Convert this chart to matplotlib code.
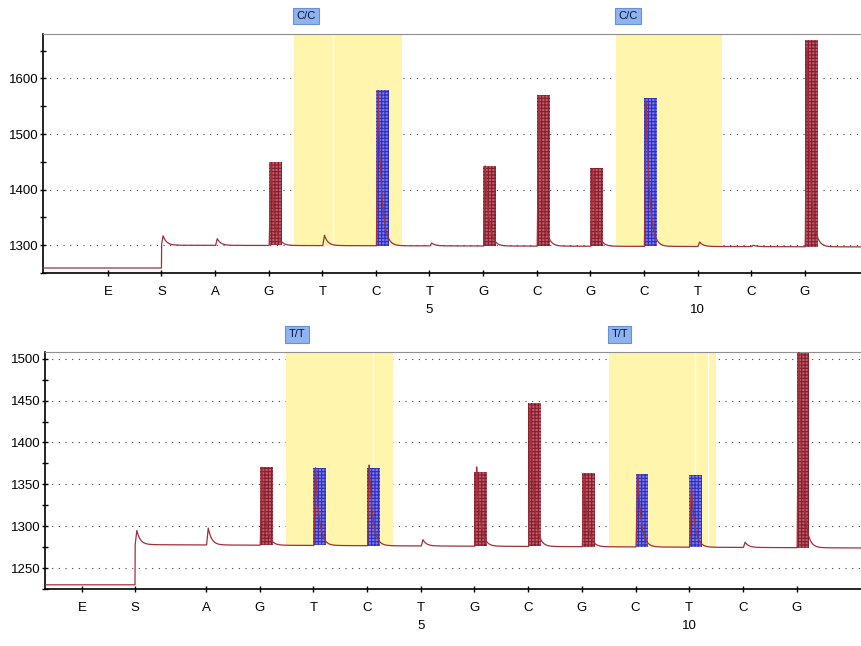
import numpy as np
import matplotlib.pyplot as plt
import matplotlib.transforms as mtransforms

plt.rcParams['font.family'] = ['Liberation Sans', 'DejaVu Sans']
plt.rcParams['hatch.linewidth'] = 0.8

# dispensation order (E = enzyme, S = substrate, then nucleotides 1..12)
disp_labels = ['E', 'S', 'A', 'G', 'T', 'C', 'T', 'G', 'C', 'G', 'C', 'T', 'C', 'G']
nuc_pos = np.arange(1, 13)

# top pyrogram (C/C genotype)
top_es_pos = [-1.0, 0.0]
top_pre = 1259
top_base = [1300, 1297]          # baseline at S and at the end
top_s_spike = 1317
top_peaks = [1312, 1450, 1318, 1580, 1304, 1443, 1570, 1439, 1565, 1306, 1300, 1670]
top_bars = [None, 1450, None, 1580, None, 1443, 1570, 1439, 1565, None, None, 1670]
top_blue = [4, 9]
top_regions = [(2.47, 4.48), (8.48, 10.46)]
top_region_lines = [3.20]
top_call = 'C/C'
top_ylim = (1256, 1680)
top_major = [1300, 1400, 1500, 1600]
top_minor = [1250, 1350, 1450, 1550, 1650]

# bottom pyrogram (T/T genotype)
bot_es_pos = [-1.31, -0.32]
bot_pre = 1230
bot_base = [1278, 1274]
bot_s_spike = 1295
bot_peaks = [1298, 1371, 1370, 1374, 1284, 1374, 1447, 1363, 1364, 1350, 1281, 1520]
bot_bars = [None, 1371, 1370, 1369, None, 1365, 1447, 1363, 1362, 1361, None, 1507]
bot_blue = [3, 4, 9, 10]
bot_regions = [(2.49, 4.48), (8.50, 10.50)]
bot_region_lines = [4.11, 10.11, 10.35]
bot_call = 'T/T'
bot_ylim = (1225, 1508)
bot_major = [1250, 1300, 1350, 1400, 1450, 1500]
bot_minor = [1225, 1275, 1325, 1375, 1425, 1475]

trace_col = '#a0303c'
red_face, red_hatch = '#b8606c', '#8b1a2a'
blue_face, blue_hatch = '#7c7ce8', '#2e2ec0'
yellow = '#fff5ac'


def peak_shape(x, x0):
    # fast rise, exponential decay
    d = x - x0
    y = np.zeros_like(x)
    rise = (d >= 0) & (d < 0.03)
    y[rise] = d[rise] / 0.03
    tail = d >= 0.03
    y[tail] = np.exp(-(d[tail] - 0.03) / 0.065)
    return y


def draw_panel(ax, xlim, es_pos, pre, base, s_spike, peaks, bars, blue,
               regions, region_lines, call, ylim, major, minor):
    x = np.linspace(xlim[0], xlim[1], 4000)
    s = es_pos[1]
    baseline = np.where(x < s, pre,
                        base[0] + (base[1] - base[0]) * (x - s) / (xlim[1] - s))
    trace = baseline + (s_spike - base[0]) * peak_shape(x, s)
    bl_at = lambda p: base[0] + (base[1] - base[0]) * (p - s) / (xlim[1] - s)
    for p, h in zip(nuc_pos, peaks):
        trace = trace + (h - bl_at(p)) * peak_shape(x, p + 0.01)

    # highlighted variable positions
    for x0, x1 in regions:
        ax.bar(x0, ylim[1] - bl_at(x0), bottom=bl_at(x0), width=x1 - x0,
               align='edge', color=yellow, linewidth=0, zorder=1)
    for xl in region_lines:
        ax.plot([xl, xl], [bl_at(xl), ylim[1]], color='white', lw=1, zorder=1.5)

    # peak bars
    for p, h in zip(nuc_pos, bars):
        if h is None:
            continue
        if p in blue:
            fc, hc = blue_face, blue_hatch
        else:
            fc, hc = red_face, red_hatch
        b = bl_at(p)
        ax.bar(p, h - b, bottom=b, width=0.24, align='edge', facecolor=fc,
               edgecolor=hc, hatch='+++++', linewidth=0, zorder=2)

    ax.plot(x, trace, color=trace_col, lw=0.9, zorder=3)

    ax.set_xlim(xlim)
    ax.set_ylim(ylim)
    ax.set_yticks(major)
    ax.set_yticks(minor, minor=True)
    ax.set_xticks(list(es_pos) + list(nuc_pos))
    ax.set_xticklabels(disp_labels)
    ax.tick_params(axis='both', which='both', direction='inout', length=5,
                   width=1, labelsize=9.5, colors='black')
    ax.tick_params(axis='x', pad=7)
    ax.tick_params(axis='y', pad=1)
    ax.grid(axis='y', which='major', color='#404040', linestyle=(0, (1, 5)), lw=0.8)
    ax.set_axisbelow(True)
    ax.spines['right'].set_visible(False)
    ax.spines['top'].set_color('#909090')
    ax.spines['left'].set_linewidth(1.2)
    ax.spines['bottom'].set_linewidth(1.2)

    # dispensation numbers under positions 5 and 10
    trans = mtransforms.blended_transform_factory(ax.transData, ax.transAxes)
    for n in [5, 10]:
        ax.text(n, -0.155, str(n), transform=trans, ha='center', va='center',
                fontsize=9.5)

    # genotype call boxes above each variable position
    for x0, x1 in regions:
        ax.text(x0 + 0.05, 1.075, call, transform=trans, ha='left', va='center',
                fontsize=8, color='#101030',
                bbox=dict(boxstyle='square,pad=0.3', facecolor='#8db4f0',
                          edgecolor='#6a8fd0', lw=0.8))


fig = plt.figure(figsize=(8.61, 6.46), dpi=100)
ax1 = fig.add_axes([43 / 861, 1 - 273 / 646, 1 - 43 / 861, 239 / 646])
ax2 = fig.add_axes([45 / 861, 1 - 589 / 646, 1 - 45 / 861, 237 / 646])

draw_panel(ax1, (-2.21, 13.05), top_es_pos, top_pre, top_base, top_s_spike,
           top_peaks, top_bars, top_blue, top_regions, top_region_lines,
           top_call, top_ylim, top_major, top_minor)
draw_panel(ax2, (-2.0, 13.2), bot_es_pos, bot_pre, bot_base, bot_s_spike,
           bot_peaks, bot_bars, bot_blue, bot_regions, bot_region_lines,
           bot_call, bot_ylim, bot_major, bot_minor)

fig.savefig('out.png', dpi=100, facecolor='white')
